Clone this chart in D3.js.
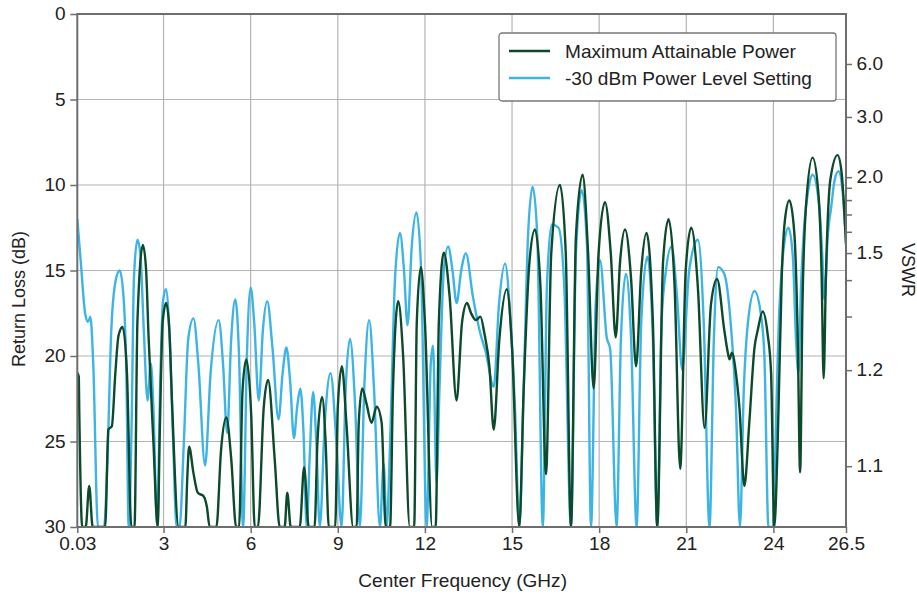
<!DOCTYPE html>
<html><head><meta charset="utf-8">
<script src="https://cdn.jsdelivr.net/npm/d3@7"></script>
<style>body{margin:0;background:#fff} text{font-family:"Liberation Sans",Arial,sans-serif;}</style>
</head><body><svg id="c" width="917" height="595"></svg>
<script>
// ---------- data ----------
const xTickValues = [0.03, 3, 6, 9, 12, 15, 18, 21, 24, 26.5];
const xTickLabels = ["0.03", "3", "6", "9", "12", "15", "18", "21", "24", "26.5"];
const yTickValues = [0, 5, 10, 15, 20, 25, 30];
const vswrMajor = [6.0, 3.0, 2.0, 1.5, 1.2, 1.1];
const vswrMinor = [1.9, 1.8, 1.7, 1.6, 1.4, 1.3];
const seriesNames = ["Maximum Attainable Power", "-30 dBm Power Level Setting"];

// Maximum Attainable Power: frequency (GHz) and return loss (dB)
const freqMax = [0.03,0.08,0.1,0.2,0.32,0.44,0.56,0.99,1.1,1.22,1.34,1.45,1.59,1.74,1.89,2.0,2.1,2.29,2.4,2.48,2.65,2.8,2.87,2.97,3.09,3.2,3.29,3.52,3.75,3.82,3.88,4.03,4.18,4.38,4.49,4.59,4.82,4.98,5.16,5.33,5.5,5.6,5.72,5.85,6.02,6.14,6.25,6.45,6.6,6.83,7.0,7.17,7.26,7.38,7.69,7.84,8.0,8.2,8.3,8.46,8.58,8.69,8.91,9.0,9.14,9.3,9.53,9.65,9.72,9.84,9.99,10.16,10.34,10.51,10.65,10.8,10.9,11.08,11.25,11.48,11.63,11.72,11.86,12.0,12.25,12.37,12.48,12.65,12.85,13.09,13.28,13.45,13.59,13.76,13.91,14.05,14.22,14.37,14.56,14.82,15.0,15.25,15.4,15.6,15.79,15.98,16.17,16.35,16.65,16.85,17.03,17.2,17.43,17.62,17.81,17.98,18.2,18.4,18.57,18.72,18.89,19.1,19.27,19.45,19.63,19.85,20.0,20.2,20.39,20.6,20.79,20.98,21.17,21.4,21.63,21.85,22.06,22.31,22.43,22.49,22.57,22.71,22.83,23.0,23.17,23.35,23.46,23.63,23.8,23.92,24.03,24.15,24.29,24.4,24.55,24.72,24.84,24.92,25.0,25.12,25.35,25.55,25.66,25.73,25.81,25.96,26.21,26.35,26.5];
const rlMax = [21.0,21.2,23.5,30,30,27.6,30,30,24.3,24.1,21.0,18.8,18.3,21.0,30,30,18,13.5,15,18.7,25,30,24.5,18,16.9,18.5,22.6,30,30,27,25.3,26.85,28.0,28.2,28.8,30,30,25.5,23.6,26,30,30,22,20.2,23.5,30,30,23,21.4,26.1,30,30,28.0,30,30,26.5,30,30,25,22.4,25,30,30,23,20.6,24,30,30,24,21.9,22.8,23.9,22.96,23.9,30,30,22,16.8,20,30,30,18,14.8,18,30,30,18,13.96,16.5,22.6,18,16.9,17.5,17.9,17.7,18.7,20.6,24.3,19.1,16.1,19.5,30,22,14.5,12.6,16,26.9,14,10.0,14,30,13,9.4,14,21.9,14,11.0,14,18.9,14.5,12.6,15.5,20.6,15,12.8,18,30,14.5,12.0,16,26.6,15,12.5,16,24.2,17,15.5,18.5,19.8,20.2,19.8,21.0,23.0,27.6,23.9,19.5,18.5,17.4,18.7,21.0,30,24.9,15.2,12.0,10.9,12.8,19.1,26.8,17.1,11.3,8.4,10.5,15.2,21.3,15.2,9.7,8.25,9.3,13.4];

// -30 dBm Power Level Setting
const freqLow = [0.03,0.15,0.3,0.4,0.48,0.58,0.74,0.95,1.05,1.2,1.35,1.49,1.62,1.72,1.8,1.9,1.98,2.1,2.2,2.32,2.45,2.56,2.65,2.78,2.88,2.98,3.08,3.2,3.33,3.45,3.55,3.7,3.85,4.03,4.2,4.43,4.62,4.9,5.05,5.19,5.33,5.47,5.6,5.74,5.87,6.0,6.12,6.28,6.42,6.57,6.75,6.96,7.1,7.23,7.36,7.49,7.6,7.71,7.82,7.93,8.03,8.15,8.26,8.38,8.55,8.75,8.95,9.13,9.27,9.42,9.6,9.76,9.92,10.08,10.25,10.45,10.58,10.68,10.82,10.97,11.14,11.28,11.4,11.55,11.71,11.87,12.06,12.2,12.28,12.4,12.5,12.65,12.8,12.95,13.09,13.25,13.41,13.65,13.88,14.1,14.37,14.55,14.76,14.95,15.1,15.25,15.4,15.55,15.71,15.87,16.06,16.2,16.37,16.6,16.8,17.03,17.2,17.4,17.58,17.72,17.88,18.03,18.26,18.38,18.6,18.75,18.92,19.1,19.29,19.45,19.66,19.85,20.0,20.15,20.3,20.49,20.68,20.86,21.1,21.4,21.6,21.8,21.95,22.1,22.31,22.54,22.71,22.85,22.98,23.12,23.35,23.58,23.69,23.83,23.95,24.21,24.36,24.52,24.67,24.78,24.86,24.95,25.07,25.2,25.35,25.58,25.68,25.76,25.87,25.99,26.1,26.24,26.39,26.5];
const rlLow = [12.0,14.5,17.5,18.0,17.7,20.5,30,30,27,18.5,15.6,15.0,16.5,21,30,24,15.5,13.2,14.0,18.5,22.6,20.4,23,30,22,16.8,16.1,18.5,25,30,30,25,19,17.8,20.5,26.4,21,17.9,20.5,24.5,19,16.7,20,30,20,16.0,18,22.6,18.5,16.8,19.5,23.7,21,19.5,21.5,24.8,23,21.9,24.5,30,26,22.1,25,30,24,21.0,25,30,22,19.0,23,30,21.5,17.9,22,30,26.3,30,24,15.5,12.8,15,18.2,13.5,11.6,15,30,20.5,19.4,27.4,22,15,13.6,15,16.9,15,14.0,16.5,18.5,19.8,21.8,17,14.6,18,23,30,22,13,10.1,13,30,16,12.3,12.5,16,30,14,10.3,13.5,30,17,14.4,18.9,19.6,30,19,15.2,19,30,18,14.2,19,30,18,15,13.6,16.5,20.8,15,13.2,18,30,19,14.8,15.2,18.3,23.0,30,22,18.1,16.2,17.7,20.0,30,30,17.1,13.6,12.5,14.2,19.1,21.0,16,12.2,10.3,9.4,11.3,14,16.7,13,11.3,9.8,9.2,10.5,13.5];

// ---------- layout ----------
const svg = d3.select("#c");
const L = 77.3, R = 846, T = 14, B = 527;
const x = d3.scaleLinear().domain([0.03, 26.5]).range([L, R]);
const y = d3.scaleLinear().domain([0, 30]).range([T, B]);
const gridColor = "#b4b4b4", axisColor = "#6e6e6e", textColor = "#222";
const cGreen = "#0b4a2b", cBlue = "#3cb4e5";
const FS = "18px", SX = 1.06;

// grid
const g = svg.append("g");
g.selectAll("line.vx").data(xTickValues.slice(1, -1)).join("line")
  .attr("x1", d => x(d)).attr("x2", d => x(d)).attr("y1", T).attr("y2", B)
  .attr("stroke", gridColor).attr("stroke-width", 1.2);
g.selectAll("line.hy").data(yTickValues.slice(1, -1)).join("line")
  .attr("y1", d => y(d)).attr("y2", d => y(d)).attr("x1", L).attr("x2", R)
  .attr("stroke", gridColor).attr("stroke-width", 1.2);

// clip
svg.append("clipPath").attr("id", "clip").append("rect")
  .attr("x", L).attr("y", T - 1).attr("width", R - L).attr("height", B - T + 2);

const line = d3.line().curve(d3.curveMonotoneX).x(d => x(d[0])).y(d => y(Math.min(30, d[1])));
const lowData = freqLow.map((f, i) => [f, rlLow[i]]);
const maxData = freqMax.map((f, i) => [f, rlMax[i]]);
svg.append("path").datum(lowData).attr("d", line).attr("fill", "none")
  .attr("stroke", cBlue).attr("stroke-width", 2.4).attr("clip-path", "url(#clip)");
svg.append("path").datum(maxData).attr("d", line).attr("fill", "none")
  .attr("stroke", cGreen).attr("stroke-width", 2.4).attr("clip-path", "url(#clip)");

// frame
svg.append("rect").attr("x", L).attr("y", T).attr("width", R - L).attr("height", B - T)
  .attr("fill", "none").attr("stroke", axisColor).attr("stroke-width", 2);

function styleAxis(sel) {
  sel.select(".domain").remove();
  sel.selectAll(".tick line").attr("stroke", axisColor).attr("stroke-width", 1.5);
  sel.selectAll(".tick text").attr("fill", textColor).style("font-size", FS)
    .style("font-family", "'Liberation Sans', Arial, sans-serif")
    .attr("transform", `scale(${SX},1)`);
}
// left axis
svg.append("g").attr("transform", `translate(${L},0)`)
  .call(d3.axisLeft(y).tickValues(yTickValues).tickSize(7).tickPadding(4))
  .call(styleAxis);
// bottom axis
svg.append("g").attr("transform", `translate(0,${B})`)
  .call(d3.axisBottom(x).tickValues(xTickValues).tickFormat((d, i) => xTickLabels[i]).tickSize(6).tickPadding(4))
  .call(styleAxis);
// right VSWR axis
const vswrToRL = v => -20 * Math.log10((v - 1) / (v + 1));
svg.append("g").attr("transform", `translate(${R},0)`)
  .call(d3.axisRight(y).tickValues(vswrMajor.map(vswrToRL)).tickFormat((d, i) => vswrMajor[i].toFixed(1)).tickSize(6).tickPadding(4))
  .call(styleAxis);
svg.append("g").attr("transform", `translate(${R},0)`)
  .call(d3.axisRight(y).tickValues(vswrMinor.map(vswrToRL)).tickFormat("").tickSize(6))
  .call(styleAxis);

// axis titles
svg.append("text").attr("transform", `translate(${(L + R) / 2 + 1},587) scale(${SX},1)`).attr("text-anchor", "middle")
  .attr("fill", textColor).style("font-size", FS).text("Center Frequency (GHz)");
svg.append("text").attr("transform", `translate(25,299) rotate(-90)`).attr("text-anchor", "middle")
  .attr("fill", textColor).style("font-size", FS).text("Return Loss (dB)");
svg.append("text").attr("transform", `translate(902,270) rotate(90)`).attr("text-anchor", "middle")
  .attr("fill", textColor).style("font-size", FS).text("VSWR");

// legend
const lg = svg.append("g").attr("transform", "translate(499,33)");
lg.append("rect").attr("width", 337).attr("height", 68).attr("rx", 3)
  .attr("fill", "#fff").attr("stroke", "#777").attr("stroke-width", 1.3);
[cGreen, cBlue].forEach((c, i) => {
  lg.append("line").attr("x1", 10).attr("x2", 51).attr("y1", 18 + i * 27).attr("y2", 18 + i * 27)
    .attr("stroke", c).attr("stroke-width", 2.5);
  lg.append("text").attr("transform", `translate(66,${24.5 + i * 27}) scale(${SX},1)`).attr("fill", textColor)
    .style("font-size", FS).text(seriesNames[i]);
});
</script></body></html>
